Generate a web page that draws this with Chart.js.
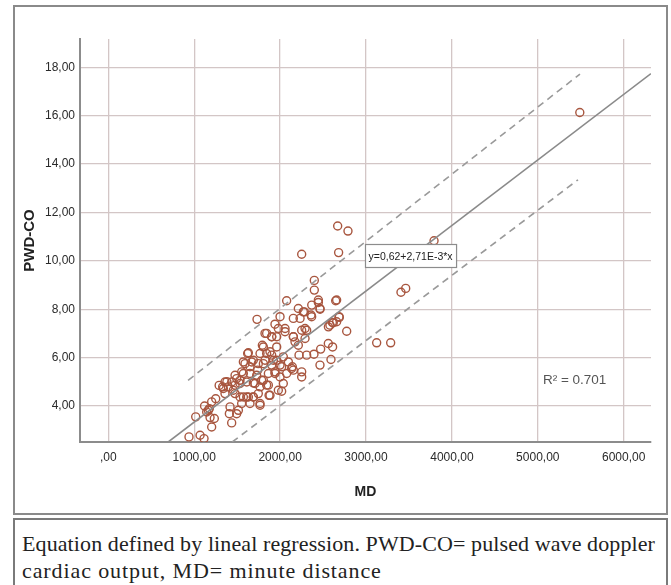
<!DOCTYPE html>
<html>
  <head>
    <title>PWD-CO vs MD</title>
    <style>
      body {
        margin: 0;
        width: 671px;
        height: 585px;
        position: relative;
        overflow: hidden;
        background: white;
        font-family: "Liberation Sans", Arial, sans-serif;
      }

      .frame{
        position: absolute;
        left: 13px;
        top: 5px;
        width: 651px;
        height: 506px;
        border: 2px solid #8a8a8a;
      }

      #chart{
        position: absolute;
        left: 0;
        top: 0;
      }

      .caption{
        position: absolute;
        left: 13px;
        top: 518px;
        width: 644px;
        height: 80px;
        border: 2px solid #7a7a7a;
        padding: 10px 0 0 7px;
        font-family: "Liberation Serif", "DejaVu Serif", serif;
        font-size: 22px;
        line-height: 27px;
        color: #222;
        white-space: nowrap;
      }
      .caption .l1{ letter-spacing: 0.1px; }
      .caption .l2{ letter-spacing: 0.9px; }
    </style>
  </head>
  <body>
    <div class="frame"></div>
    <canvas id="chart" width="671" height="514"></canvas>
    <div class="caption"><span class="l1">Equation defined by lineal regression. PWD-CO= pulsed wave doppler</span><br><span class="l2">cardiac output, MD= minute distance</span></div>

    <script src="https://cdn.jsdelivr.net/npm/chart.js"></script>
    <script>
      // MD (x) and PWD-CO (y)
      var mdValues = [
        2670, 2790, 2251, 2681, 2398, 2076, 1731, 2658, 2775, 3124, 3287,
        2398, 2445, 2464, 2367, 2212, 2270, 2154, 1999, 1940, 1979,
        2057, 1843, 1902, 1960, 2290, 2290, 2154, 2212, 2580, 2619,
        2689, 2561, 2611, 2472, 2394, 2309, 2220, 2464, 2592, 2251,
        2251, 2142, 2096, 2037, 1960, 1882, 1805, 1766, 1630, 1688,
        1591, 1649, 1746, 1824, 1921, 1999, 1940, 1863, 1805, 1727,
        1649, 1572, 1494, 1436, 1358, 1331, 1397, 1475, 1533, 1611,
        1688, 1766, 1843, 1358, 1475, 1533, 1611, 1688, 1552, 1649,
        1766, 1871, 2018, 2154, 1417, 1409, 1514, 1494, 1436, 1203,
        1176, 1145, 1234, 1203, 1017, 1068, 1114, 939,
        1793, 1843, 1902, 1805, 1902, 1960, 2018, 1940, 1999, 2076,
        2134, 2037, 1979, 1882, 1863, 1785, 1708, 1622, 1572, 1669,
        1739, 1475, 1533, 1553, 1455, 1572, 1630, 1688, 1746, 1766,
        1824, 1902, 2057, 2154, 2173, 1184, 1164, 1339,
        2445, 2368, 2465, 2360, 2282, 2232, 2647, 2686, 2658, 2608, 2562, 2251, 2309,
        1120, 1250, 1290, 1380,
        3407, 3462, 3792, 5489
      ];
      var coValues = [
        11.44, 11.23, 10.27, 10.34, 9.19, 8.35, 7.58, 8.38, 7.09, 6.61, 6.61,
        8.79, 8.38, 8.03, 7.69, 8.03, 7.89, 7.62, 7.69, 7.38, 7.20,
        7.20, 7.00, 6.86, 6.86, 7.20, 6.79, 6.86, 6.51, 7.34, 7.44,
        7.66, 6.58, 6.44, 6.35, 6.14, 6.10, 6.10, 5.69, 5.92, 5.41,
        5.20, 5.62, 5.82, 6.03, 6.44, 6.24, 6.44, 6.17, 6.20, 5.89,
        5.75, 5.62, 5.75, 5.89, 5.89, 5.69, 5.41, 5.34, 5.06, 5.27,
        5.34, 5.34, 5.13, 4.99, 4.99, 4.79, 4.79, 4.86, 4.93, 4.99,
        4.95, 4.79, 4.86, 4.51, 4.51, 4.37, 4.37, 4.37, 4.10, 4.10,
        4.10, 4.44, 4.61, 5.48, 3.96, 3.68, 3.82, 3.68, 3.30, 4.17,
        3.89, 3.75, 3.48, 3.13, 3.55, 2.79, 2.65, 2.72,
        6.51, 6.17, 6.10, 5.75, 5.69, 5.89, 5.62, 5.34, 5.20, 5.34,
        5.55, 4.93, 4.65, 4.44, 4.86, 5.06, 4.93, 6.17, 5.82, 5.82,
        5.48, 5.27, 5.06, 5.41, 4.65, 4.37, 4.37, 4.37, 4.51, 4.03,
        7.00, 6.86, 7.07, 6.86, 6.65, 3.52, 3.82, 4.72,
        8.28, 8.17, 8.00, 7.76, 7.89, 7.62, 8.35, 7.69, 7.48, 7.45, 7.27, 7.13, 7.13,
        4.00, 4.30, 4.85, 5.00,
        8.70, 8.86, 10.83, 16.13
      ];

      // fit line and the two dashed bands, end points
      var fitX = [697, 6318];
      var fitY = [2.51, 17.74];
      var upperX = [928, 5491];
      var upperY = [5.06, 17.72];
      var lowerX = [1442, 5468];
      var lowerY = [2.51, 13.35];

      var xTickValues = [0, 1000, 2000, 3000, 4000, 5000, 6000];
      var yTickValues = [4, 6, 8, 10, 12, 14, 16, 18];

      var eqText = 'y=0,62+2,71E-3*x';
      var eqAnchor = [2990, 10.2];
      var r2Text = 'R\u00b2 = 0.701';
      var r2Anchor = [5060, 5.06];

      var tickFont = '"Liberation Sans Narrow", "Liberation Sans", Arial, sans-serif';

      function pairs(xs, ys) {
        return xs.map(function(v, i) { return {x: v, y: ys[i]}; });
      }

      function spssNumber(v) {
        if (v === 0) return ',00';
        return v.toFixed(2).replace('.', ',');
      }

      const notes = {
        id: 'notes',
        afterDatasetsDraw(chart) {
          const ctx = chart.ctx;
          const x = chart.scales.x;
          const y = chart.scales.y;
          ctx.save();

          ctx.font = '10.5px "Liberation Sans", Arial, sans-serif';
          const w = ctx.measureText(eqText).width;
          const bx = Math.round(x.getPixelForValue(eqAnchor[0]));
          const by = Math.round(y.getPixelForValue(eqAnchor[1]));
          ctx.fillStyle = '#ffffff';
          ctx.fillRect(bx, by - 12, w + 7, 24);
          ctx.strokeStyle = '#8c8c8c';
          ctx.lineWidth = 1.2;
          ctx.strokeRect(bx + 0.5, by - 11.5, w + 7, 23);
          ctx.fillStyle = '#222';
          ctx.textBaseline = 'middle';
          ctx.textAlign = 'left';
          ctx.fillText(eqText, bx + 3.5, by + 1);

          ctx.font = '13.5px "Liberation Sans", Arial, sans-serif';
          ctx.fillStyle = '#555';
          ctx.fillText(r2Text, x.getPixelForValue(r2Anchor[0]), y.getPixelForValue(r2Anchor[1]));
          ctx.restore();
        }
      };

      Chart.defaults.font.family = '"Liberation Sans", Arial, sans-serif';

      const chart = new Chart(document.getElementById('chart'), {
        type: 'scatter',
        data: {
          datasets: [
            {
              label: 'fit',
              data: pairs(fitX, fitY),
              showLine: true,
              borderColor: '#8a8a8a',
              borderWidth: 1.6,
              pointRadius: 0
            },
            {
              label: 'upper',
              data: pairs(upperX, upperY),
              showLine: true,
              borderColor: '#9a9a9a',
              borderWidth: 1.6,
              borderDash: [7, 5],
              pointRadius: 0
            },
            {
              label: 'lower',
              data: pairs(lowerX, lowerY),
              showLine: true,
              borderColor: '#9a9a9a',
              borderWidth: 1.6,
              borderDash: [7, 5],
              pointRadius: 0
            },
            {
              label: 'PWD-CO',
              data: pairs(mdValues, coValues),
              pointStyle: 'circle',
              pointRadius: 4,
              pointBorderWidth: 1.4,
              borderColor: '#a8563f',
              backgroundColor: 'rgba(255,255,255,0)'
            }
          ]
        },
        options: {
          responsive: false,
          animation: false,
          events: [],
          layout: {
            padding: {left: 14, top: 39, right: 20, bottom: 0}
          },
          plugins: {
            legend: {display: false},
            tooltip: {enabled: false}
          },
          scales: {
            x: {
              type: 'linear',
              min: -330,
              max: 6318,
              afterBuildTicks: function(scale) {
                scale.ticks = xTickValues.map(function(v) { return {value: v}; });
              },
              afterFit: function(scale) { scale.height = 72; },
              grid: {color: '#d3c6c6', lineWidth: 1.3, drawTicks: false},
              border: {color: '#8c8c8c', width: 2},
              ticks: {
                padding: 8,
                color: '#2a2a2a',
                font: {size: 12, family: tickFont},
                maxRotation: 0,
                callback: spssNumber
              },
              title: {
                display: true,
                text: 'MD',
                color: '#222',
                font: {size: 14, weight: 'bold'},
                padding: {top: 0, bottom: 13}
              }
            },
            y: {
              type: 'linear',
              min: 2.51,
              max: 19.17,
              afterBuildTicks: function(scale) {
                scale.ticks = yTickValues.map(function(v) { return {value: v}; });
              },
              afterFit: function(scale) { scale.width = 66; },
              grid: {color: '#d3c6c6', lineWidth: 1.3, drawTicks: false},
              border: {color: '#8c8c8c', width: 2},
              ticks: {
                padding: 5,
                color: '#2a2a2a',
                font: {size: 12, family: tickFont},
                callback: spssNumber
              },
              title: {
                display: true,
                text: 'PWD-CO',
                color: '#222',
                font: {size: 15, weight: 'bold'},
                padding: {top: 7, bottom: 0}
              }
            }
          }
        },
        plugins: [notes]
      });
    </script>
  </body>
</html>
